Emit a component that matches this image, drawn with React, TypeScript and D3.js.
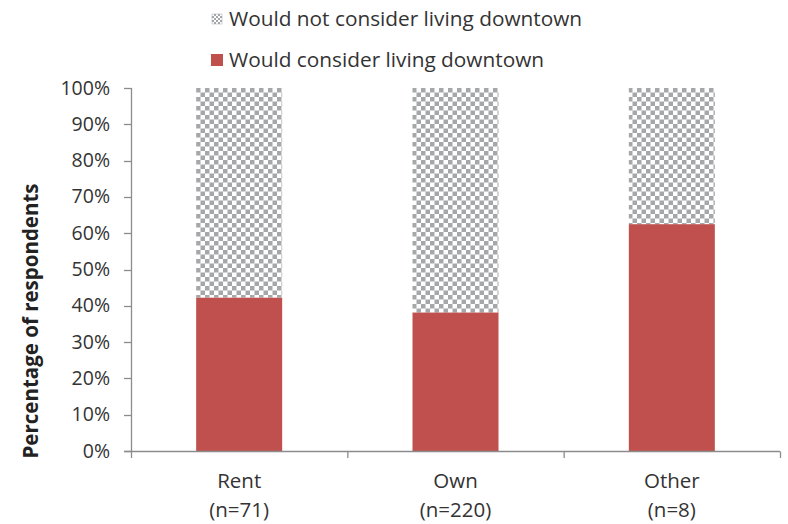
import React from "react";
import * as d3 from "d3";

const categories = ["Rent", "Own", "Other"];
const sampleLabels = ["(n=71)", "(n=220)", "(n=8)"];
const considerValues = [42.3, 38.2, 62.5];
const notConsiderValues = [57.7, 61.8, 37.5];
const yTicks = [0, 10, 20, 30, 40, 50, 60, 70, 80, 90, 100];
const legendLabels = ["Would not consider living downtown", "Would consider living downtown"];

const W = 788, H = 524;
const FONT = "'Open Sans', sans-serif";
const RED = "#c0504d";
const GREY = "#a5a8ab";
const AXIS = "#8c8c8c";

export default function App() {
  const x = d3.scaleBand<string>().domain(categories).range([131, 780]).paddingInner(0).paddingOuter(0);
  const y = d3.scaleLinear().domain([0, 100]).range([451, 88]);
  const barW = 86;
  const boundaries = [131, ...categories.map((c) => (x(c) as number) + x.bandwidth())];
  return (
    <svg width={W} height={H} style={{ position: "absolute", left: 0, top: 0, background: "#fff" }} fontFamily={FONT}>
      <defs>
        <pattern id="checker" width={9} height={9} patternUnits="userSpaceOnUse" x={196} y={88}>
          <rect width={9} height={9} fill="#fff" />
          <rect x={0} y={0} width={4.5} height={4.5} fill={GREY} />
          <rect x={4.5} y={4.5} width={4.5} height={4.5} fill={GREY} />
        </pattern>
        <pattern id="checkerSmall" width={4} height={4} patternUnits="userSpaceOnUse">
          <rect width={4} height={4} fill="#fff" />
          <rect x={0} y={0} width={2} height={2} fill={GREY} />
          <rect x={2} y={2} width={2} height={2} fill={GREY} />
        </pattern>
      </defs>
      {/* legend */}
      <rect x={212} y={14} width={10} height={10} fill="url(#checkerSmall)" stroke={GREY} strokeWidth={0.5} />
      <text x={229} y={26} fontSize={20.8} fill="#333">{legendLabels[0]}</text>
      <rect x={211} y={54} width={12} height={12} fill={RED} />
      <text x={229} y={67} fontSize={20.8} fill="#333">{legendLabels[1]}</text>

      {/* bars */}
      {categories.map((c, i) => {
        const cx = (x(c) as number) + x.bandwidth() / 2;
        const x0 = cx - barW / 2;
        return (
          <g key={c}>
            <rect x={x0} y={y(considerValues[i])} width={barW} height={y(0) - y(considerValues[i])} fill={RED} />
            <rect x={x0} y={y(considerValues[i] + notConsiderValues[i])} width={barW}
              height={y(considerValues[i]) - y(considerValues[i] + notConsiderValues[i])} fill="url(#checker)" />
          </g>
        );
      })}

      {/* y axis */}
      <line x1={131.5} x2={131.5} y1={88} y2={451} stroke={AXIS} strokeWidth={1.3} />
      {yTicks.map((t) => (
        <g key={t}>
          <line x1={124} x2={131.5} y1={Math.round(y(t)) + 0.5} y2={Math.round(y(t)) + 0.5} stroke={AXIS} strokeWidth={1.3} />
          <text x={110} y={y(t) + 6.5} fontSize={19.5} textAnchor="end" fill="#333">{t}%</text>
        </g>
      ))}
      {/* x axis */}
      <line x1={124} x2={780} y1={451.5} y2={451.5} stroke={AXIS} strokeWidth={1.3} />
      {boundaries.map((b, i) => (
        <line key={i} x1={b + 0.5} x2={b + 0.5} y1={451.5} y2={458} stroke={AXIS} strokeWidth={1.3} />
      ))}
      {categories.map((c, i) => {
        const cx = (x(c) as number) + x.bandwidth() / 2;
        return (
          <g key={c}>
            <text x={cx} y={488} fontSize={20.5} textAnchor="middle" fill="#333">{c}</text>
            <text x={cx} y={517} fontSize={20.5} textAnchor="middle" fill="#333">{sampleLabels[i]}</text>
          </g>
        );
      })}
      <text transform={`translate(38,${321}) rotate(-90)`} fontSize={20.5} fontWeight="bold" textAnchor="middle" fill="#222">
        Percentage of respondents
      </text>
    </svg>
  );
}
